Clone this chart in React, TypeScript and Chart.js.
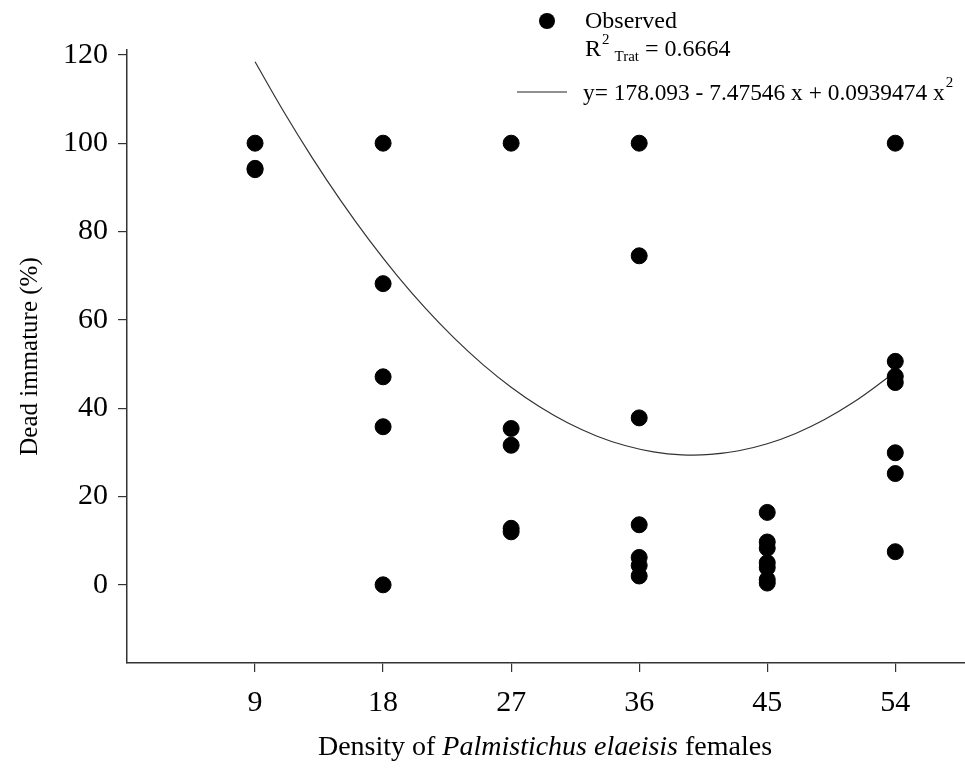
import React, { useEffect, useRef } from "react";
import { Chart, registerables } from "chart.js";

Chart.register(...registerables);

const densities = [9, 18, 27, 36, 45, 54];
const observedByDensity: number[][] = [
  [100, 94.3, 94.0],
  [100, 68.2, 47.1, 35.8, 0],
  [100, 35.4, 31.6, 12.8, 12.0],
  [100, 74.5, 37.8, 13.6, 6.2, 4.4, 2.0],
  [16.4, 9.7, 8.3, 5.0, 3.9, 1.2, 0.4],
  [100, 50.6, 47.2, 45.8, 29.9, 25.2, 7.5],
];
// regression coefficients printed in the legend
const coefA = 178.093;
const coefB = -7.47546;
const coefC = 0.0939474;
const fitX = [9, 11, 13, 15, 17, 19, 21, 23, 25, 27, 29, 31, 33, 35, 37, 39, 41, 43, 45, 47, 49, 51, 53, 54];
const yTicks = [0, 20, 40, 60, 80, 100, 120];
const legendObserved = "Observed";
const legendR2 = "0.6664";
const legendEq = "y= 178.093 - 7.47546 x + 0.0939474 x";
const xTitleParts = [
  { text: "Density of ", italic: false },
  { text: "Palmistichus elaeisis", italic: true },
  { text: " females", italic: false },
];

const FONT = "'Liberation Serif', 'Times New Roman', serif";

const legendPlugin = {
  id: "customLegend",
  afterDraw(chart: any) {
    const ctx = chart.ctx;
    ctx.save();
    ctx.fillStyle = "#000";
    ctx.textBaseline = "alphabetic";
    ctx.textAlign = "left";
    // dot
    ctx.beginPath();
    ctx.arc(547, 21, 8, 0, Math.PI * 2);
    ctx.fill();
    ctx.font = `24px ${FONT}`;
    ctx.fillText(legendObserved, 585, 28);
    // R2 line
    ctx.fillText("R", 585, 56);
    const rw = ctx.measureText("R").width;
    ctx.font = `15px ${FONT}`;
    ctx.fillText("2", 585 + rw + 1, 44);
    const tw0 = ctx.measureText("2").width;
    ctx.fillText("Trat", 585 + rw + tw0 + 6, 61);
    const tw = ctx.measureText("Trat").width;
    ctx.font = `24px ${FONT}`;
    ctx.fillText(" = " + legendR2, 585 + rw + tw0 + 6 + tw, 56);
    // line sample
    ctx.strokeStyle = "#222";
    ctx.lineWidth = 1.2;
    ctx.beginPath();
    ctx.moveTo(517, 92);
    ctx.lineTo(567, 92);
    ctx.stroke();
    ctx.font = `23.4px ${FONT}`;
    ctx.fillText(legendEq, 583, 100);
    const ew = ctx.measureText(legendEq).width;
    ctx.font = `15px ${FONT}`;
    ctx.fillText("2", 583 + ew + 1, 87);
    // x-axis title with italic species name
    const size = 28;
    let total = 0;
    xTitleParts.forEach((p) => {
      ctx.font = `${p.italic ? "italic " : ""}${size}px ${FONT}`;
      total += ctx.measureText(p.text).width;
    });
    let x = 545 - total / 2;
    xTitleParts.forEach((p) => {
      ctx.font = `${p.italic ? "italic " : ""}${size}px ${FONT}`;
      ctx.fillText(p.text, x, 755);
      x += ctx.measureText(p.text).width;
    });
    ctx.restore();
  },
};

export default function App() {
  const ref = useRef<HTMLCanvasElement>(null);
  useEffect(() => {
    document.body.style.margin = "0";
    const scatter: { x: number; y: number }[] = [];
    densities.forEach((d, i) => observedByDensity[i].forEach((v) => scatter.push({ x: d, y: v })));
    const fit = fitX.map((x) => ({ x, y: coefA + coefB * x + coefC * x * x }));
    const chart = new Chart(ref.current!, {
      type: "scatter",
      data: {
        datasets: [
          {
            label: "Observed",
            data: scatter,
            backgroundColor: "#000",
            borderColor: "#000",
            pointRadius: 8,
            pointHoverRadius: 8,
          },
          {
            label: "Fit",
            type: "line",
            data: fit,
            borderColor: "#333",
            borderWidth: 1.2,
            pointRadius: 0,
            tension: 0.4,
            fill: false,
          } as any,
        ],
      },
      options: {
        responsive: false,
        animation: false,
        layout: { autoPadding: false, padding: { top: 50, right: 0, left: 0, bottom: 0 } },
        plugins: { legend: { display: false }, tooltip: { enabled: false } },
        scales: {
          x: {
            type: "linear",
            min: 0,
            max: 58.9,
            afterBuildTicks: (s: any) => {
              s.ticks = densities.map((v) => ({ value: v }));
            },
            afterFit: (s: any) => {
              s.height = 110;
            },
            grid: { drawOnChartArea: false, drawTicks: true, tickLength: 9, color: "#333", lineWidth: 1.2 },
            border: { display: true, color: "#333", width: 1.5 },
            ticks: { color: "#000", font: { family: FONT, size: 30 }, padding: 13, maxRotation: 0 },
            title: { display: false },
          },
          y: {
            type: "linear",
            min: -17.7,
            max: 121.1,
            afterBuildTicks: (s: any) => {
              s.ticks = yTicks.map((v) => ({ value: v }));
            },
            afterFit: (s: any) => {
              s.width = 127;
            },
            grid: { drawOnChartArea: false, drawTicks: true, tickLength: 9, color: "#333", lineWidth: 1.2 },
            border: { display: true, color: "#333", width: 1.5 },
            ticks: { color: "#000", font: { family: FONT, size: 30 }, padding: 10 },
            title: {
              display: true,
              text: "Dead immature (%)",
              color: "#000",
              font: { family: FONT, size: 25 },
              padding: { top: 15, bottom: 0 },
            },
          },
        },
      },
      plugins: [legendPlugin],
    });
    return () => chart.destroy();
  }, []);
  return <canvas ref={ref} width={965} height={773} style={{ display: "block" }} />;
}
